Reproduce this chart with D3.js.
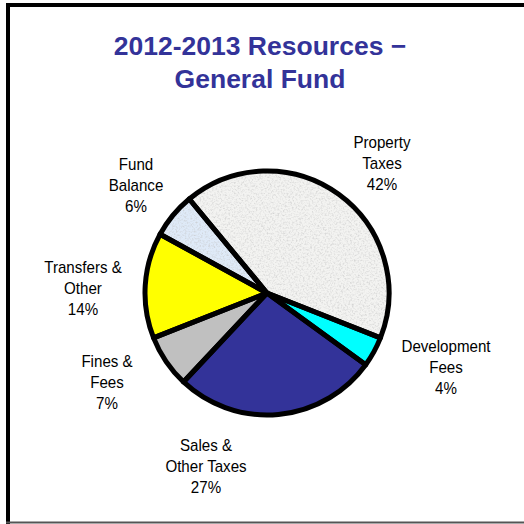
<!DOCTYPE html>
<html>
<head>
<meta charset="utf-8">
<script src="https://cdn.jsdelivr.net/npm/d3@7"></script>
<style>
  html, body { margin: 0; padding: 0; background: #fff; }
  svg { display: block; }
</style>
</head>
<body>
<svg id="chart" width="524" height="524"></svg>
<script>
// Resource categories, in drawing order (clockwise)
const categories = ["Property Taxes", "Development Fees", "Sales & Other Taxes", "Fines & Fees", "Transfers & Other", "Fund Balance"];
// Share of total resources, percent
const values = [42, 4, 27, 7, 14, 6];
// Label text lines (percent line is appended from values)
const labelLines = [["Property", "Taxes"], ["Development", "Fees"], ["Sales &", "Other Taxes"], ["Fines &", "Fees"], ["Transfers &", "Other"], ["Fund", "Balance"]];
const titleLines = ["2012-2013 Resources \u2212", "General Fund"];

// Slice fills and which ones get the speckled texture
const fills = ["#f3f3f1", "#00ffff", "#333399", "#c0c0c0", "#ffff00", "#dfeaf8"];
const textured = [true, false, false, false, false, true];
// Centre of each label block (middle line)
const labelAnchor = [[382, 163], [446, 367], [206, 466], [107, 382], [83, 288], [136, 185]];

const svg = d3.select("#chart");
const defs = svg.append("defs");

// Granite-like speckle texture
const f = defs.append("filter").attr("id", "speckle")
  .attr("x", 0).attr("y", 0).attr("width", 1).attr("height", 1);
f.append("feTurbulence").attr("type", "fractalNoise").attr("baseFrequency", 0.55)
  .attr("numOctaves", 3).attr("seed", 7).attr("result", "noise");
f.append("feColorMatrix").attr("in", "noise").attr("type", "matrix")
  .attr("values", "0 0 0 0 0.55  0 0 0 0 0.55  0 0 0 0 0.55  1.6 0 0 0 -0.72")
  .attr("result", "grain");
f.append("feComposite").attr("in", "grain").attr("in2", "SourceAlpha").attr("operator", "in").attr("result", "grainIn");
const merge = f.append("feMerge");
merge.append("feMergeNode").attr("in", "SourceGraphic");
merge.append("feMergeNode").attr("in", "grainIn");

// Frame
svg.append("line").attr("x1", 8).attr("y1", 3).attr("x2", 8).attr("y2", 524)
  .attr("stroke", "#000").attr("stroke-width", 4);
svg.append("line").attr("x1", 6).attr("y1", 5).attr("x2", 524).attr("y2", 5)
  .attr("stroke", "#000").attr("stroke-width", 4);
svg.append("line").attr("x1", 6).attr("y1", 522.5).attr("x2", 524).attr("y2", 522.5)
  .attr("stroke", "#555").attr("stroke-width", 2);

// Title
const title = svg.append("text").attr("text-anchor", "middle")
  .attr("font-family", "Liberation Sans, Arial, sans-serif")
  .attr("font-weight", "bold").attr("font-size", 26.5).attr("fill", "#333399");
titleLines.forEach((t, i) => {
  title.append("tspan").attr("x", 260).attr("y", 55 + i * 32.5).text(t);
});

// Pie
const cx = 267, cy = 293, R = 122;
const startDeg = -39.6;
const pie = d3.pie().sort(null).value(d => d)
  .startAngle(startDeg * Math.PI / 180)
  .endAngle((startDeg + 360) * Math.PI / 180);
const arcs = pie(values);
const arc = d3.arc().innerRadius(0).outerRadius(R);

const g = svg.append("g").attr("transform", `translate(${cx},${cy})`);

g.selectAll("path.fill").data(arcs).join("path")
  .attr("class", "fill")
  .attr("d", arc)
  .attr("fill", (d, i) => fills[i])
  .attr("filter", (d, i) => textured[i] ? "url(#speckle)" : null);

g.selectAll("path.edge").data(arcs).join("path")
  .attr("class", "edge")
  .attr("d", arc)
  .attr("fill", "none")
  .attr("stroke", "#000")
  .attr("stroke-width", 5)
  .attr("stroke-linejoin", "round");

// Labels
const lineH = 21.3;
const labels = svg.append("g")
  .attr("font-family", "Liberation Sans, Arial, sans-serif")
  .attr("font-size", 17).attr("fill", "#000");
categories.forEach((c, i) => {
  const lines = labelLines[i].concat([values[i] + "%"]);
  const [lx, ly] = labelAnchor[i];
  const t = labels.append("text")
    .attr("text-anchor", "middle")
    .attr("transform", `translate(${lx},${ly}) scale(0.89,1)`);
  lines.forEach((s, j) => {
    t.append("tspan").attr("x", 0).attr("y", (j - 1) * lineH + 6).text(s);
  });
});
</script>
</body>
</html>
